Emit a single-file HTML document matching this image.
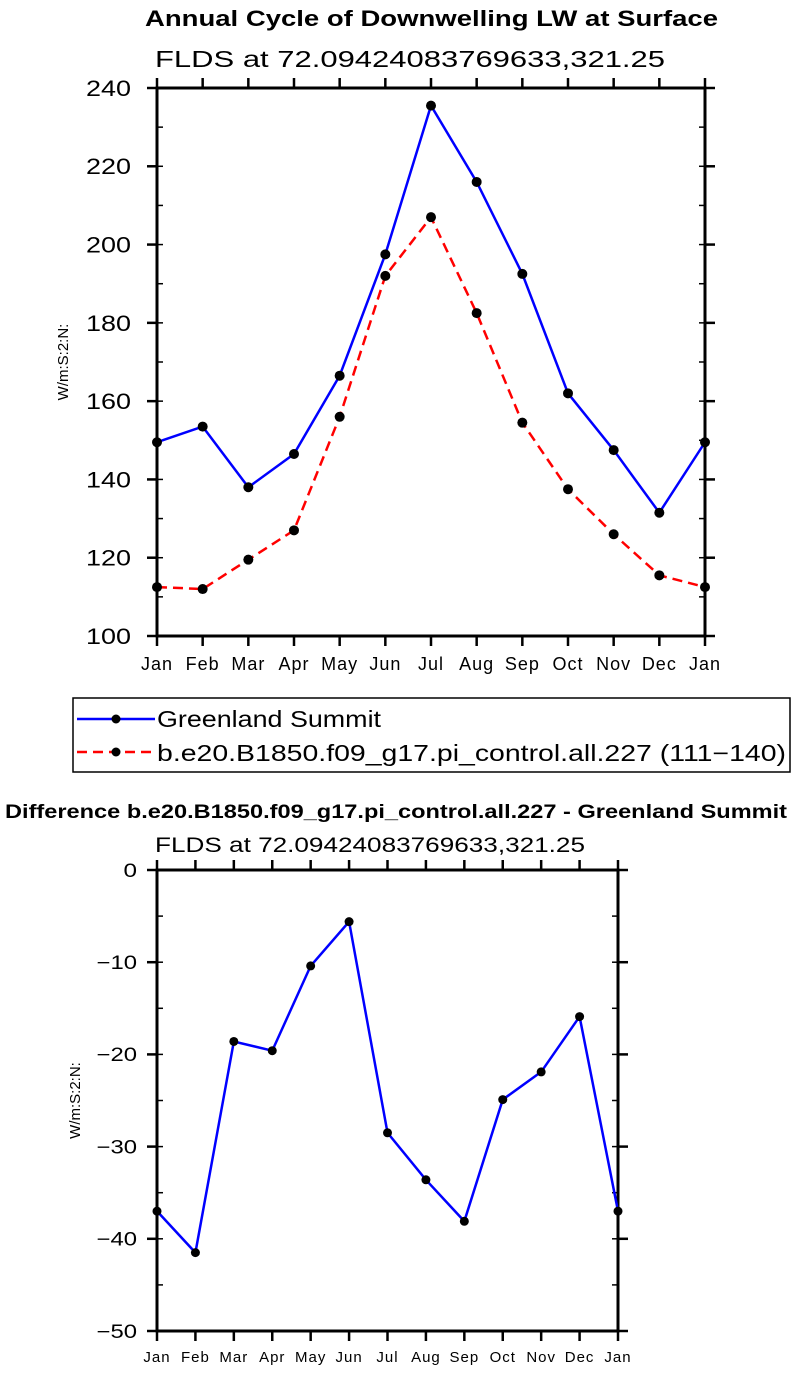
<!DOCTYPE html>
<html><head><meta charset="utf-8"><style>
body{margin:0;background:#fff;}
svg{display:block;font-family:"Liberation Sans",sans-serif;}
</style></head><body>
<svg id="s" width="796" height="1376" viewBox="0 0 796 1376">
<text x="145" y="26" font-size="22" font-weight="bold" textLength="573" lengthAdjust="spacingAndGlyphs">Annual Cycle of Downwelling LW at Surface</text>
<text x="155" y="67" font-size="23" textLength="510" lengthAdjust="spacingAndGlyphs">FLDS at 72.09424083769633,321.25</text>
<text x="5" y="818" font-size="19" font-weight="bold" textLength="782" lengthAdjust="spacingAndGlyphs">Difference b.e20.B1850.f09_g17.pi_control.all.227 - Greenland Summit</text>
<text x="155" y="852" font-size="21" textLength="430" lengthAdjust="spacingAndGlyphs">FLDS at 72.09424083769633,321.25</text>
<g id="top"></g>
<g id="bot"></g>
<g>
<rect x="73" y="698" width="717" height="74" fill="none" stroke="#000" stroke-width="1.5"/>
<g>
<line x1="77" y1="719" x2="155" y2="719" stroke="#0000ff" stroke-width="2.5"/>
<circle cx="116" cy="719" r="4.5" fill="#000"/>
<text x="157" y="727" font-size="23" textLength="224" lengthAdjust="spacingAndGlyphs">Greenland Summit</text></g>
<g>
<line x1="77" y1="752" x2="155" y2="752" stroke="#ff0000" stroke-width="2.5" stroke-dasharray="10,6"/>
<circle cx="116" cy="752" r="4.5" fill="#000"/>
<text x="157" y="761" font-size="23" textLength="629" lengthAdjust="spacingAndGlyphs">b.e20.B1850.f09_g17.pi_control.all.227 (111−140)</text></g>
</g>
</svg>
<script>
const months=["Jan","Feb","Mar","Apr","May","Jun","Jul","Aug","Sep","Oct","Nov","Dec","Jan"];
const obsValues=[149.5,153.5,138,146.5,166.5,197.5,235.5,216,192.5,162,147.5,131.5,149.5];
const modelValues=[112.5,112,119.5,127,156,192,207,182.5,154.5,137.5,126,115.5,112.5];
const diffValues=[-37,-41.5,-18.6,-19.6,-10.4,-5.6,-28.5,-33.6,-38.1,-24.9,-21.9,-15.9,-37];
const topTicks=[100,120,140,160,180,200,220,240];
const botTicks=[-50,-40,-30,-20,-10,0];
const NS="http://www.w3.org/2000/svg";
function mk(p,t,a){const e=document.createElementNS(NS,t);for(const k in a)e.setAttribute(k,a[k]);p.appendChild(e);return e;}
function chart(g,L,R,T,B,ymin,ymax,ticks,minorStep,fs,series,axisFs,ylabX,lblGap,charW){
  const x=i=>L+(R-L)*i/(months.length-1);
  const y=v=>B-(B-T)*(v-ymin)/(ymax-ymin);
  for(let v=ymin;v<=ymax+1e-9;v+=minorStep){
    const t1=mk(g,'line',{x1:L,x2:L+6,y1:y(v),y2:y(v),stroke:'#000','stroke-width':1.5});
    
    const t2=mk(g,'line',{x1:R,x2:R-6,y1:y(v),y2:y(v),stroke:'#000','stroke-width':1.5});
    
  }
  ticks.forEach(v=>{
    const t=mk(g,'line',{x1:L-10,x2:L,y1:y(v),y2:y(v),stroke:'#000','stroke-width':2.5});
    
    const t2=mk(g,'line',{x1:R+10,x2:R,y1:y(v),y2:y(v),stroke:'#000','stroke-width':2.5});
    
    const s=String(v).replace('-','−');
    const l=mk(g,'text',{x:L-lblGap,y:y(v)+fs*0.36,'font-size':fs,'text-anchor':'end',textLength:s.length*charW,lengthAdjust:'spacingAndGlyphs'});
    l.textContent=s;
    
  });
  months.forEach((m,i)=>{
    const t=mk(g,'line',{x1:x(i),x2:x(i),y1:B,y2:B+10,stroke:'#000','stroke-width':2.5});
    
    const t2=mk(g,'line',{x1:x(i),x2:x(i),y1:T,y2:T-10,stroke:'#000','stroke-width':2.5});
    
    const l=mk(g,'text',{x:x(i),y:B+axisFs+16,'font-size':axisFs,'text-anchor':'middle','letter-spacing':1});
    l.textContent=m;
    
  });
  const fr=mk(g,'rect',{x:L,y:T,width:R-L,height:B-T,fill:'none',stroke:'#000','stroke-width':3});
  
  const yl=mk(g,'text',{x:0,y:0,'font-size':15,'text-anchor':'middle',transform:`translate(${ylabX},${(T+B)/2}) rotate(-90)`});
  yl.textContent='W/m:S:2:N:';
  
  series.forEach(s=>{
    const p=mk(g,'polyline',{points:s.vals.map((v,i)=>x(i)+','+y(v)).join(' '),fill:'none',stroke:s.color,'stroke-width':2.5,'stroke-dasharray':s.dash||'none'});
    
    s.vals.forEach((v,i)=>{
      const c=mk(g,'circle',{cx:x(i),cy:y(v),r:s.r,fill:'#000'});
      
    });
  });
}
chart(document.getElementById('top'),157,705,88,636,100,240,topTicks,10,22,
 [{vals:obsValues,color:'#0000ff',name:'greenland-summit',r:5},{vals:modelValues,color:'#ff0000',dash:'10,6',name:'model',r:5}],18,68,26,15);
chart(document.getElementById('bot'),157,618,870,1331,-50,0,botTicks,5,19,
 [{vals:diffValues,color:'#0000ff',name:'difference',r:4.5}],15,80,20,13.5);
</script>
</body></html>
